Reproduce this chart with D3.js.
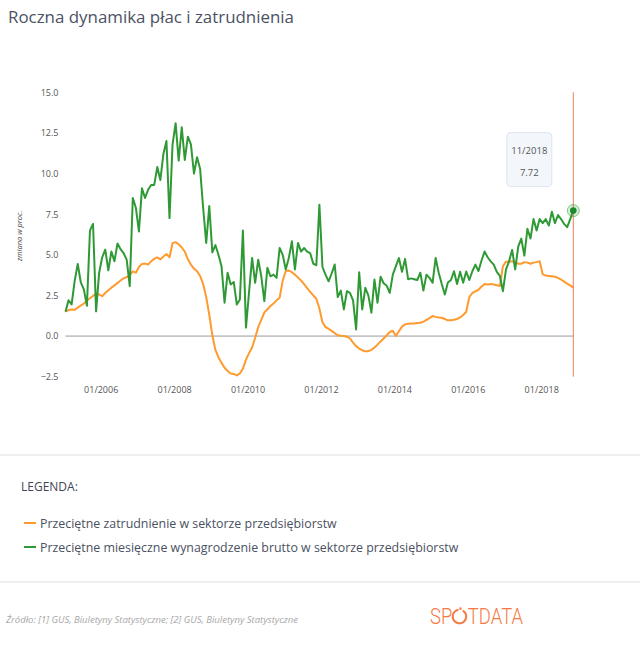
<!DOCTYPE html>
<html><head><meta charset="utf-8">
<script src="https://cdn.jsdelivr.net/npm/d3@7"></script>
<style>
html,body{margin:0;padding:0;background:#fff;}
svg{display:block;font-family:"Open Sans",sans-serif;}
</style></head><body>
<svg id="c" width="640" height="645"></svg>
<script>
// ---------- data ----------
const startYear = 2005;          // first point: 01/2005, monthly until 11/2018
const wages = [
 1.5,2.2,1.95,3.4,4.44,3.3,2.87,1.86,6.5,6.9,1.52,3.9,
 4.85,5.32,4.05,5.2,4.6,5.7,5.35,5.1,4.7,3.07,8.5,7.9,
 6.44,9.1,8.5,9.0,9.3,9.3,10.4,9.6,11.2,12.0,7.26,11.8,
 13.1,10.8,12.85,10.84,12.27,11.8,10.0,11.0,10.3,7.88,5.73,8.0,
 5.15,5.6,5.0,4.3,2.05,3.9,3.17,3.33,1.94,2.25,6.5,0.52,
 2.7,4.81,3.28,4.7,3.68,2.15,4.2,3.68,3.78,3.58,5.42,5.0,
 4.1,4.8,5.83,4.1,5.73,5.2,5.42,5.2,5.1,4.45,4.36,8.08,
 4.25,3.78,3.37,3.85,4.4,2.4,2.8,1.64,2.76,2.66,2.2,0.41,
 3.93,1.64,2.97,2.5,1.44,3.48,2.05,3.65,3.25,3.1,2.66,3.78,
 4.3,4.8,3.95,4.75,3.5,3.55,3.5,3.45,3.9,2.8,3.78,3.58,
 3.28,4.81,3.9,3.2,2.56,3.3,3.45,3.99,3.2,3.96,3.28,3.97,
 3.45,3.99,4.4,4.0,4.65,5.2,4.85,4.6,4.4,3.95,3.7,2.76,
 4.1,4.6,5.3,4.1,5.5,6.0,4.95,6.6,6.0,7.2,6.5,7.2,
 6.95,7.2,6.8,7.65,6.95,7.45,7.2,6.9,6.7,7.2,7.72
];
const employment = [
 1.5,1.6,1.63,1.62,1.75,1.88,2.0,2.2,2.33,2.47,2.6,2.56,
 2.45,2.65,2.82,2.98,3.12,3.27,3.42,3.56,3.63,3.75,3.98,3.9,
 4.25,4.44,4.46,4.4,4.6,4.75,4.84,4.72,4.9,5.05,4.85,5.72,
 5.78,5.65,5.45,5.2,4.72,4.4,4.15,3.99,3.7,3.2,2.4,1.3,
 0.05,-0.85,-1.3,-1.65,-1.95,-2.15,-2.3,-2.33,-2.42,-2.3,-2.0,-1.45,
 -1.05,-0.7,-0.1,0.55,1.0,1.45,1.65,1.85,2.0,2.2,2.36,3.4,
 4.0,4.03,3.93,3.78,3.6,3.42,3.2,2.95,2.72,2.5,2.3,1.7,
 0.85,0.55,0.45,0.32,0.18,0.05,0.02,0.0,-0.04,-0.15,-0.4,-0.62,
 -0.77,-0.87,-0.94,-0.93,-0.85,-0.7,-0.53,-0.33,-0.15,0.05,0.25,0.33,
 0.0,0.3,0.58,0.72,0.76,0.77,0.78,0.8,0.82,0.88,1.0,1.1,
 1.23,1.18,1.14,1.13,1.05,0.97,0.97,1.0,1.05,1.15,1.3,1.5,
 2.4,2.65,2.75,2.85,3.05,3.2,3.18,3.2,3.17,3.13,3.08,4.3,
 4.58,4.58,4.6,4.55,4.45,4.45,4.55,4.52,4.45,4.52,4.55,4.6,
 3.8,3.72,3.7,3.68,3.65,3.58,3.48,3.35,3.22,3.12,2.98
];
const xTickLabels = ["01/2006","01/2008","01/2010","01/2012","01/2014","01/2016","01/2018"];
const yTicks = [-2.5,0,2.5,5,7.5,10,12.5,15];
const seriesNames = ["Przeciętne zatrudnienie w sektorze przedsiębiorstw",
                     "Przeciętne miesięczne wynagrodzenie brutto w sektorze przedsiębiorstw"];
const seriesColors = ["#ff9a2e","#2f9a35"];
const title = "Roczna dynamika płac i zatrudnienia";
const yAxisTitle = "zmiana w proc.";
const legendTitle = "LEGENDA:";
const sourceText = "Źródło: [1] GUS, Biuletyny Statystyczne; [2] GUS, Biuletyny Statystyczne";

// ---------- chart ----------
const svg = d3.select("#c");
const x = d3.scaleLinear().domain([0, wages.length - 1]).range([65.5, 573.3]);
const y = d3.scaleLinear().domain([-2.5, 15]).range([376.7, 92.3]);
const labelToIndex = l => (+l.split("/")[1] - startYear) * 12 + (+l.split("/")[0] - 1);

svg.append("text").attr("x", 8).attr("y", 23).attr("font-size", 16.9)
  .attr("fill", "#4b5263").text(title);

// y axis
const yAxis = svg.append("g").attr("transform", "translate(58.5,0)")
  .call(d3.axisLeft(y).tickValues(yTicks).tickFormat(d3.format(".1f")).tickSize(0).tickPadding(0));
yAxis.select(".domain").remove();
yAxis.selectAll("text").attr("font-size", 9).attr("fill", "#555").attr("font-family", "Open Sans");

svg.append("text").attr("transform", "translate(22,236) rotate(-90)")
  .attr("text-anchor", "middle").attr("font-size", 7.5).attr("font-style", "italic")
  .attr("fill", "#444").text(yAxisTitle);

// x axis
const xAxis = svg.append("g").attr("transform", "translate(-1.5,386.5)")
  .call(d3.axisBottom(x).tickValues(xTickLabels.map(labelToIndex))
    .tickFormat((d, i) => xTickLabels[i]).tickSize(0).tickPadding(0));
xAxis.select(".domain").remove();
xAxis.selectAll("text").attr("font-size", 9).attr("fill", "#555").attr("font-family", "Open Sans");

// zero line
svg.append("line").attr("x1", x(0)).attr("x2", x(wages.length - 1))
  .attr("y1", y(0)).attr("y2", y(0)).attr("stroke", "#9a9a9a").attr("stroke-width", 1);

const line = d3.line().x((d, i) => x(i)).y(d => y(d));
[employment, wages].forEach((s, k) => {
  svg.append("path").datum(s).attr("d", line).attr("fill", "none")
    .attr("stroke", seriesColors[k]).attr("stroke-width", 2).attr("stroke-linejoin", "round");
});

// hover line + marker + tooltip
const last = wages.length - 1;
svg.append("line").attr("x1", x(last)).attr("x2", x(last)).attr("y1", y(15)).attr("y2", y(-2.5))
  .attr("stroke", "#f07d58").attr("stroke-width", 1);
svg.append("circle").attr("cx", x(last)).attr("cy", y(wages[last])).attr("r", 6)
  .attr("fill", "rgba(47,154,53,0.18)").attr("stroke", "rgba(47,154,53,0.55)").attr("stroke-width", 1);
svg.append("circle").attr("cx", x(last)).attr("cy", y(wages[last])).attr("r", 3.3).attr("fill", "#1f8a2c");

const tipX = x(last) - 44, tipY = y(wages[last]) - 24;
svg.append("rect").attr("x", tipX - 22.5).attr("y", tipY - 54).attr("width", 45).attr("height", 54)
  .attr("rx", 4).attr("fill", "#f3f7fc").attr("stroke", "#dbe4ef");
const monthLabel = `${last % 12 + 1}/${startYear + Math.floor(last / 12)}`;
svg.append("text").attr("x", tipX).attr("y", tipY - 33).attr("text-anchor", "middle")
  .attr("font-size", 9.5).attr("fill", "#555").text(monthLabel);
svg.append("text").attr("x", tipX).attr("y", tipY - 11).attr("text-anchor", "middle")
  .attr("font-size", 9.5).attr("fill", "#555").text(d3.format(".2f")(wages[last]));

// separators
[455, 582].forEach(yy => svg.append("rect").attr("x", 0).attr("y", yy - 1).attr("width", 640)
  .attr("height", 2).attr("fill", "#efefef"));

// legend
svg.append("text").attr("x", 21).attr("y", 491).attr("font-size", 12).attr("fill", "#3f4656").text(legendTitle);
seriesNames.forEach((n, k) => {
  const yy = 523 + k * 24;
  svg.append("line").attr("x1", 24).attr("x2", 36).attr("y1", yy).attr("y2", yy)
    .attr("stroke", seriesColors[k]).attr("stroke-width", 2);
  svg.append("text").attr("x", 40).attr("y", yy + 4.5).attr("font-size", 12.4)
    .attr("fill", "#4a5161").text(n);
});

// source
svg.append("text").attr("x", 6).attr("y", 623).attr("font-size", 9.5).attr("font-style", "italic")
  .attr("fill", "#a8a8a8").text(sourceText);

// logo
const logo = svg.append("g").attr("transform", "translate(430,0) scale(0.84,1)")
  .attr("fill", "#f47b45").attr("font-family", "Roboto").attr("font-weight", 300).attr("font-size", 22);
const sp = logo.append("text").attr("x", 0).attr("y", 624.5).text("SP");
const spW = sp.node().getComputedTextLength();
const cx = spW + 8.5, cy = 616.5;
logo.append("path").attr("transform", `translate(${cx},${cy}) scale(1.19,1)`)
  .attr("d", d3.arc().innerRadius(5.8).outerRadius(7.8).startAngle(0.5).endAngle(2 * Math.PI - 0.15)());
logo.append("circle").attr("cx", cx + 1.2).attr("cy", cy - 7.8).attr("r", 1.4);
logo.append("text").attr("x", cx + 10).attr("y", 624.5).text("TDATA");
</script>
</body></html>
